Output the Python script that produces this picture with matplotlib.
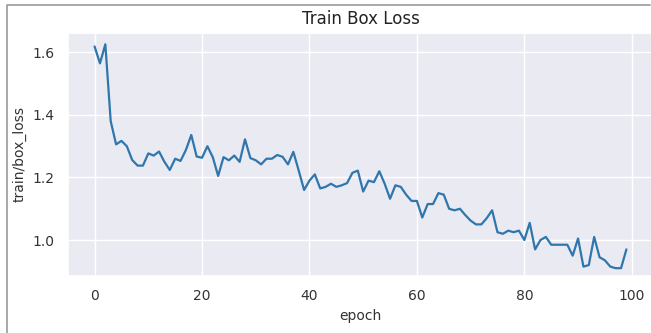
import matplotlib
matplotlib.use("Agg")
import matplotlib.pyplot as plt
import seaborn as sns
from matplotlib.lines import Line2D

epochs = list(range(100))
box_loss = [
    1.619, 1.565, 1.626, 1.380, 1.306, 1.317, 1.300, 1.256, 1.238, 1.238,
    1.277, 1.270, 1.283, 1.250, 1.224, 1.260, 1.253, 1.288, 1.336, 1.267,
    1.263, 1.300, 1.265, 1.205, 1.265, 1.255, 1.270, 1.250, 1.322, 1.262,
    1.255, 1.242, 1.260, 1.260, 1.272, 1.266, 1.242, 1.282, 1.222, 1.160,
    1.190, 1.210, 1.165, 1.170, 1.180, 1.170, 1.175, 1.182, 1.215, 1.222,
    1.155, 1.190, 1.185, 1.220, 1.180, 1.132, 1.175, 1.170, 1.145, 1.125,
    1.125, 1.072, 1.115, 1.115, 1.150, 1.145, 1.100, 1.095, 1.100, 1.080,
    1.062, 1.050, 1.050, 1.070, 1.095, 1.025, 1.020, 1.030, 1.025, 1.030,
    1.000, 1.055, 0.970, 1.000, 1.010, 0.985, 0.985, 0.985, 0.985, 0.950,
    1.005, 0.915, 0.920, 1.010, 0.945, 0.935, 0.915, 0.910, 0.910, 0.970,
]
x_ticks = [0, 20, 40, 60, 80, 100]
y_ticks = [1.0, 1.2, 1.4, 1.6]

sns.set_theme(style="darkgrid")
plt.rcParams['font.family'] = ['DejaVu Sans']

fig = plt.figure(figsize=(6.51, 3.33), dpi=100)
fig.patch.set_facecolor("white")
ax = fig.add_axes([68/651, 1-276/333, (653-68)/651, (276-33)/333])
ax.plot(epochs, box_loss, color="#2f76ad", linewidth=1.6)
ax.set_xlim(-4.95, 103.95)
ax.set_ylim(0.885, 1.662)
ax.set_xticks(x_ticks)
ax.set_yticks(y_ticks)
ax.set_yticklabels([f"{v:.1f}" for v in y_ticks])
ax.tick_params(labelsize=10, colors="#333333")
ax.set_xlabel("epoch", fontsize=10, color="#333333")
ax.set_ylabel("train/box_loss", fontsize=10, color="#333333")
ax.set_title("Train Box Loss", fontsize=12, color="#222222", pad=6.5)

# screenshot frame: left and top edges only
fx, fy, fr = 7/651, 1 - 5/333, 650/651
fig.add_artist(Line2D([fx, fx, fr], [0, fy, fy], transform=fig.transFigure,
                      color="#999999", linewidth=1.2))

fig.savefig("out.png", dpi=100)
